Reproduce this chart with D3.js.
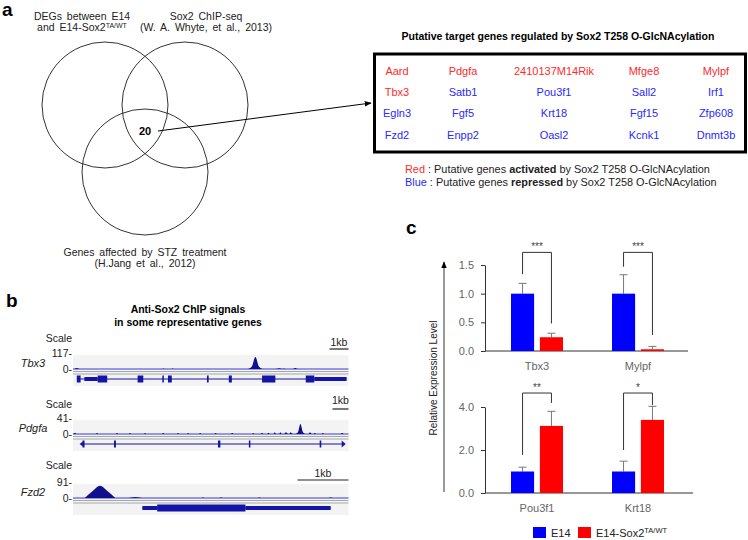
<!DOCTYPE html>
<html>
<head>
<meta charset="utf-8">
<script src="https://cdn.jsdelivr.net/npm/d3@7"></script>
<style>
  body { margin: 0; background: #fff; }
  svg { font-family: "Liberation Sans", Arial, sans-serif; }
</style>
</head>
<body>
<svg id="fig" width="748" height="540"></svg>
<script>
// ---------- data ----------
const vennSets = [
  ["DEGs between E14", "and E14-Sox2"],
  ["Sox2 ChIP-seq", "(W. A. Whyte, et al., 2013)"],
  ["Genes affected by STZ treatment", "(H.Jang et al., 2012)"]
];
const overlapCount = 20;

const targetRows = [
  ["Aard", "Pdgfa", "2410137M14Rik", "Mfge8", "Mylpf"],
  ["Tbx3", "Satb1", "Pou3f1", "Sall2", "Irf1"],
  ["Egln3", "Fgf5", "Krt18", "Fgf15", "Zfp608"],
  ["Fzd2", "Enpp2", "Oasl2", "Kcnk1", "Dnmt3b"]
];
const activatedGenes = ["Aard", "Pdgfa", "2410137M14Rik", "Mfge8", "Mylpf", "Tbx3"];

// ChIP tracks (positions in kb)
const trackGenes = ["Tbx3", "Pdgfa", "Fzd2"];
const trackScaleMax = [117, 41, 91];
const trackSpanKb = [14.5, 17.2, 5.4];
// bumps: [centre kb, height, half width kb, shoulder]
const trackSignal = [
  [[0.2, 8, 0.2], [4.75, 5, 0.12], [5.25, 4, 0.12], [9.6, 100, 0.38], [10.85, 7, 0.2], [11.1, 5, 0.12], [11.7, 9, 0.2]],
  [[0.12, 4, 0.15], [1.5, 3, 0.12], [2.75, 3, 0.12], [3.56, 3, 0.1], [4.5, 3, 0.1], [5.63, 3, 0.12], [6.56, 3, 0.1],
   [7.19, 3, 0.1], [7.94, 3, 0.1], [8.9, 3, 0.12], [9.94, 3, 0.12], [11.25, 3, 0.1], [11.8, 4, 0.12], [12.2, 4, 0.12],
   [12.6, 5, 0.12], [12.95, 5, 0.12], [13.3, 6, 0.15], [13.6, 6, 0.12], [14.2, 29, 0.3], [14.8, 5, 0.15],
   [15.1, 4, 0.12], [15.6, 3, 0.12], [16.8, 3, 0.15]],
  [[0.53, 80, 0.3, 0.55], [1.22, 6, 0.14, 0.5], [2.55, 3, 0.07], [2.9, 3, 0.08], [3.65, 3, 0.08], [5.05, 3, 0.1]]
];
const trackGeneSpan = [[0.2, 14.4], [0.6, 16.9], [1.36, 5.05]];
// exons: [start kb, end kb, kind] c = coding (tall), u = utr (short)
const trackExons = [
  [[0.2, 0.4, "c"], [0.6, 1.3, "u"], [1.3, 1.8, "c"], [3.4, 3.7, "c"], [4.7, 4.78, "c"], [5.0, 5.2, "c"],
   [7.05, 7.14, "c"], [8.2, 8.36, "c"], [9.95, 10.65, "c"], [12.25, 12.7, "c"], [12.7, 14.4, "u"]],
  [[0.6, 0.72, "c"], [2.56, 2.68, "c"], [9.05, 9.2, "c"], [10.98, 11.06, "c"], [15.4, 15.5, "c"]],
  [[1.36, 1.65, "u"], [1.65, 3.38, "c"], [3.38, 5.05, "u"]]
];

// qPCR bars
const series = ["E14", "E14-Sox2"];
const topGenes = ["Tbx3", "Mylpf"];
const topE14 = [1.0, 1.0];
const topE14Err = [0.18, 0.33];
const topTA = [0.24, 0.03];
const topTAErr = [0.07, 0.05];
const topTicks = [0, 0.5, 1.0, 1.5];
const topStars = ["***", "***"];
const topBrackets = [[1.34, 1.72, 0.48], [1.47, 1.72, 0.28]];

const bottomGenes = ["Pou3f1", "Krt18"];
const bottomE14 = [1.0, 1.0];
const bottomE14Err = [0.2, 0.48];
const bottomTA = [3.12, 3.4];
const bottomTAErr = [0.68, 0.63];
const bottomTicks = [0, 2.0, 4.0];
const bottomStars = ["**", "*"];
const bottomBrackets = [[1.77, 4.65, 4.19], [2.0, 4.65, 4.09]];

// ---------- drawing ----------
const svg = d3.select("#fig");
const RED = "#ff2a2a", BLUE = "#2a2aff";
const GENE = "#1414a8", SIGNAL = "#10108c";

svg.append("defs").append("marker")
  .attr("id", "arr").attr("viewBox", "0 0 10 10").attr("refX", 9).attr("refY", 5)
  .attr("markerWidth", 7).attr("markerHeight", 7).attr("orient", "auto")
  .append("path").attr("d", "M0,1 L10,5 L0,9 Z").attr("fill", "#000");

// panel letters
[["a", 2, 16], ["b", 6, 307], ["c", 406, 234]].forEach(([t, x, y]) => {
  svg.append("text").attr("x", x).attr("y", y).attr("font-size", 19)
    .attr("font-weight", "bold").text(t);
});

// ----- a: venn -----
const vennPos = [[105, 105, 82, 20], [185, 105, 206, 20], [145, 172, 145, 256]];
const venn = svg.append("g");
venn.selectAll("circle").data(vennSets).join("circle")
  .attr("cx", (d, i) => vennPos[i][0]).attr("cy", (d, i) => vennPos[i][1]).attr("r", 63)
  .attr("fill", "none").attr("stroke", "#333").attr("stroke-width", 1);

vennSets.forEach((lines, i) => {
  lines.forEach((ln, j) => {
    const t = venn.append("text").attr("x", vennPos[i][2]).attr("y", vennPos[i][3] + j * 11)
      .attr("text-anchor", "middle").attr("font-size", 10.5).attr("fill", "#222")
      .attr("word-spacing", 2).text(ln);
    if (i === 0 && j === 1) {
      t.append("tspan").attr("dy", -3.5).attr("font-size", 7).text("TA/WT");
    }
  });
});

venn.append("text").attr("x", 145).attr("y", 135).attr("text-anchor", "middle")
  .attr("font-size", 11).attr("font-weight", "bold").text(overlapCount);
venn.append("line").attr("x1", 158).attr("y1", 131).attr("x2", 371).attr("y2", 103)
  .attr("stroke", "#000").attr("stroke-width", 1).attr("marker-end", "url(#arr)");

// ----- a: target gene table -----
svg.append("text").attr("x", 558).attr("y", 40).attr("text-anchor", "middle")
  .attr("font-size", 10.5).attr("font-weight", "bold")
  .text("Putative target genes regulated by Sox2 T258  O-GlcNAcylation");

svg.append("rect").attr("x", 374.5).attr("y", 54).attr("width", 371).attr("height", 98)
  .attr("fill", "none").attr("stroke", "#000").attr("stroke-width", 3);

const colX = d3.scaleOrdinal().domain(d3.range(5)).range([397, 463, 554, 644, 716]);
const rowY = d3.scaleOrdinal().domain(d3.range(4)).range([75, 96, 117, 139]);
svg.append("g").selectAll("g").data(targetRows).join("g")
  .each(function (row, r) {
    d3.select(this).selectAll("text").data(row).join("text")
      .attr("x", (d, c) => colX(c)).attr("y", rowY(r))
      .attr("text-anchor", "middle").attr("font-size", 11)
      .attr("fill", d => activatedGenes.includes(d) ? RED : BLUE)
      .text(d => d);
  });

const leg1 = svg.append("text").attr("x", 405).attr("y", 173).attr("font-size", 10.9).attr("fill", "#222");
leg1.append("tspan").attr("fill", RED).text("Red");
leg1.append("tspan").text(" : Putative  genes ");
leg1.append("tspan").attr("font-weight", "bold").text("activated");
leg1.append("tspan").text(" by Sox2 T258  O-GlcNAcylation");
const leg2 = svg.append("text").attr("x", 405).attr("y", 186).attr("font-size", 10.9).attr("fill", "#222");
leg2.append("tspan").attr("fill", BLUE).text("Blue");
leg2.append("tspan").text(" : Putative  genes ");
leg2.append("tspan").attr("font-weight", "bold").text("repressed");
leg2.append("tspan").text(" by Sox2 T258  O-GlcNAcylation");

// ----- b: ChIP tracks -----
svg.append("text").attr("x", 188).attr("y", 313).attr("text-anchor", "middle")
  .attr("font-size", 10.5).attr("font-weight", "bold").text("Anti-Sox2 ChIP signals");
svg.append("text").attr("x", 188).attr("y", 326).attr("text-anchor", "middle")
  .attr("font-size", 10.5).attr("font-weight", "bold").text("in some representative genes");

const trackLayout = [
  { top: 355, scaleY: 342, kbY: 346, barY: 349 },
  { top: 420, scaleY: 408, kbY: 404, barY: 409 },
  { top: 484, scaleY: 469, kbY: 477, barY: 480 }
];
const sigH = 14;

trackGenes.forEach((gene, i) => {
  const L = trackLayout[i];
  const x = d3.scaleLinear().domain([0, trackSpanKb[i]]).range([73, 348.5]);
  const y = d3.scaleLinear().domain([0, trackScaleMax[i]]).range([L.top + sigH, L.top]);
  const base = y(0);
  const g = svg.append("g");

  g.append("rect").attr("x", 73).attr("y", L.top).attr("width", 275.5).attr("height", sigH + 17)
    .attr("fill", "#f3f3f3");
  [2.5, 5].forEach(off => {
    g.append("line").attr("x1", 73).attr("x2", 348.5).attr("y1", base + off).attr("y2", base + off)
      .attr("stroke", "#a8a8a8").attr("stroke-width", 1);
  });
  g.append("line").attr("x1", 73).attr("x2", 348.5).attr("y1", base).attr("y2", base)
    .attr("stroke", "#3a3ae0").attr("stroke-width", 1);

  const area = d3.area().x(d => x(d[0])).y0(base).y1(d => y(d[1])).curve(d3.curveMonotoneX);
  g.selectAll("path.sig").data(trackSignal[i]).join("path").attr("class", "sig")
    .attr("d", ([c, h, w, s]) => {
      const k = s || 0.2;
      return area([[c - w, 0], [c - w * 0.5, h * k], [c, h], [c + w * 0.5, h * k], [c + w, 0]]);
    })
    .attr("fill", SIGNAL);

  // gene model
  const gy = base + 10;
  g.append("line").attr("x1", x(trackGeneSpan[i][0])).attr("x2", x(trackGeneSpan[i][1]))
    .attr("y1", gy).attr("y2", gy).attr("stroke", GENE).attr("stroke-width", 1);
  g.selectAll("rect.ex").data(trackExons[i]).join("rect").attr("class", "ex")
    .attr("x", d => x(d[0])).attr("width", d => Math.max(1.5, x(d[1]) - x(d[0])))
    .attr("y", d => gy - (d[2] === "c" ? 3.5 : 2)).attr("height", d => d[2] === "c" ? 7 : 4)
    .attr("fill", GENE);
  if (gene === "Pdgfa") {
    const x0 = x(trackGeneSpan[i][0]), x1 = x(trackGeneSpan[i][1]);
    g.append("path").attr("d", `M${x0 - 3},${gy} L${x0 + 1},${gy - 3} L${x0 + 1},${gy + 3} Z`).attr("fill", GENE);
    g.append("path").attr("d", `M${x1 + 2},${gy} L${x1 - 2},${gy - 3.5} L${x1 - 2},${gy + 3.5} Z`).attr("fill", GENE);
  }

  // labels
  const lab = (t, xx, yy, opts = {}) => g.append("text").attr("x", xx).attr("y", yy)
    .attr("text-anchor", opts.anchor || "end").attr("font-size", opts.size || 10.5).attr("fill", "#222")
    .attr("font-style", opts.italic ? "italic" : null).text(t);
  lab("Scale", 72, L.scaleY);
  lab(trackScaleMax[i] + "-", 72, L.top + 2);
  lab("0-", 72, base + 4);
  lab(gene, 33, L.top + 12, { anchor: "middle", italic: true, size: 11 });
  lab("1kb", x(trackSpanKb[i] - 0.5), L.kbY, { anchor: "middle" });
  g.append("line").attr("x1", x(trackSpanKb[i] - 1)).attr("x2", x(trackSpanKb[i]))
    .attr("y1", L.barY).attr("y2", L.barY).attr("stroke", "#222").attr("stroke-width", 1.2);
});

// ----- c: bar charts -----
function barPanel(groups, e14, e14Err, ta, taErr, yMax, yRange, ticks, xEnd, brackets, stars) {
  const x = d3.scaleBand().domain(groups).range([486.5, 688.5]);
  const xs = d3.scaleBand().domain(series).range([-26, 26]).paddingInner(0.2);
  const y = d3.scaleLinear().domain([0, yMax]).range(yRange);
  const g = svg.append("g");

  const ax = g.append("g").attr("transform", "translate(485,0)")
    .call(d3.axisLeft(y).tickValues(ticks).tickFormat(d3.format(".1f")).tickSize(4).tickSizeOuter(0).tickPadding(7));
  ax.select(".domain").attr("stroke", "#333");
  ax.selectAll(".tick line").attr("stroke", "#333");
  ax.selectAll(".tick text").attr("font-size", 11).attr("fill", "#666")
    .attr("font-family", "'Liberation Sans', Arial, sans-serif");

  g.append("line").attr("x1", 485).attr("x2", xEnd).attr("y1", y(0)).attr("y2", y(0))
    .attr("stroke", "#333").attr("stroke-width", 1);

  const rows = groups.map((gname, k) => [
    { gname, s: series[0], v: e14[k], e: e14Err[k], c: "#0000ff" },
    { gname, s: series[1], v: ta[k], e: taErr[k], c: "#ff0000" }
  ]).flat();

  g.selectAll("line.err").data(rows).join("line").attr("class", "err")
    .attr("x1", d => x(d.gname) + x.bandwidth() / 2 + xs(d.s) + xs.bandwidth() / 2)
    .attr("x2", d => x(d.gname) + x.bandwidth() / 2 + xs(d.s) + xs.bandwidth() / 2)
    .attr("y1", d => y(d.v)).attr("y2", d => y(d.v + d.e))
    .attr("stroke", "#777").attr("stroke-width", 1);
  g.selectAll("line.cap").data(rows).join("line").attr("class", "cap")
    .attr("x1", d => x(d.gname) + x.bandwidth() / 2 + xs(d.s) + xs.bandwidth() / 2 - 4)
    .attr("x2", d => x(d.gname) + x.bandwidth() / 2 + xs(d.s) + xs.bandwidth() / 2 + 4)
    .attr("y1", d => y(d.v + d.e)).attr("y2", d => y(d.v + d.e))
    .attr("stroke", "#777").attr("stroke-width", 1);
  g.selectAll("rect.bar").data(rows).join("rect").attr("class", "bar")
    .attr("x", d => x(d.gname) + x.bandwidth() / 2 + xs(d.s))
    .attr("width", xs.bandwidth())
    .attr("y", d => y(d.v)).attr("height", d => y(0) - y(d.v))
    .attr("fill", d => d.c);

  groups.forEach((gname, k) => {
    const cx = x(gname) + x.bandwidth() / 2;
    const xl = cx + xs(series[0]) + xs.bandwidth() / 2;
    const xr = cx + xs(series[1]) + xs.bandwidth() / 2;
    const [f0, top, f1] = brackets[k];
    g.append("path").attr("d", `M${xl},${y(f0)} V${y(top)} H${xr} V${y(f1)}`)
      .attr("fill", "none").attr("stroke", "#333").attr("stroke-width", 1);
    g.append("text").attr("x", cx).attr("y", y(top) - 2).attr("text-anchor", "middle")
      .attr("font-size", 10).attr("fill", "#444").text(stars[k]);
    g.append("text").attr("x", cx).attr("y", y(0) + 19).attr("text-anchor", "middle")
      .attr("font-size", 11).attr("fill", "#666").text(gname);
  });
}

barPanel(topGenes, topE14, topE14Err, topTA, topTAErr, 1.5, [351, 265], topTicks, 688, topBrackets, topStars);
barPanel(bottomGenes, bottomE14, bottomE14Err, bottomTA, bottomTAErr, 4, [493, 407], bottomTicks, 693, bottomBrackets, bottomStars);

// y label with arrow
svg.append("line").attr("x1", 444).attr("x2", 444).attr("y1", 492).attr("y2", 262)
  .attr("stroke", "#333").attr("stroke-width", 1).attr("marker-end", "url(#arr)");
svg.append("text").attr("transform", "translate(437,378) rotate(-90)")
  .attr("text-anchor", "middle").attr("font-size", 10).attr("fill", "#222")
  .text("Relative  Expression Level");

// legend
const legX = [533, 578];
series.forEach((s, k) => {
  svg.append("rect").attr("x", legX[k]).attr("y", 527).attr("width", 13).attr("height", 11)
    .attr("fill", k === 0 ? "#0000ff" : "#ff0000");
  const t = svg.append("text").attr("x", legX[k] + 18).attr("y", 537).attr("font-size", 11)
    .attr("fill", "#222").text(s);
  if (k === 1) t.append("tspan").attr("dy", -4).attr("font-size", 7.5).text("TA/WT");
});
</script>
</body>
</html>
